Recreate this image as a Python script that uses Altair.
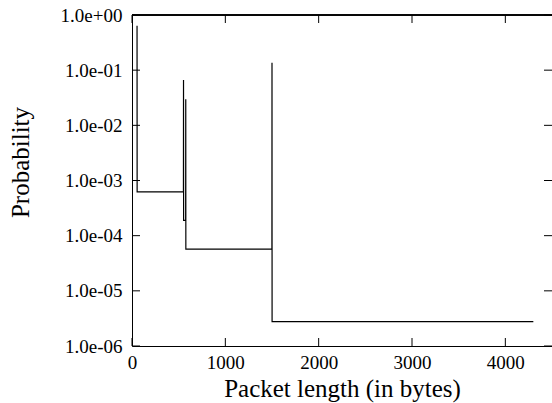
import altair as alt
import pandas as pd

# Packet-length probability path (bytes, probability)
pkt_len = [54, 55, 551, 552, 553, 575, 576, 577, 1499, 1500, 1501, 4300]
prob = [0.64, 6.2e-4, 6.2e-4, 0.066, 1.9e-4, 1.9e-4, 0.0296, 5.7e-5, 5.7e-5, 0.136, 2.76e-6, 2.76e-6]

x_ticks = [0, 1000, 2000, 3000, 4000]
y_ticks = [1.0, 1e-1, 1e-2, 1e-3, 1e-4, 1e-5, 1e-6]

W, H = 420, 331
FONT = "Liberation Serif"

line_df = pd.DataFrame({"x": pkt_len, "y": prob, "i": list(range(len(pkt_len)))})
xt_df = pd.DataFrame({"x": x_ticks})
yt_df = pd.DataFrame({"y": y_ticks})

xscale = alt.Scale(domain=[0, 4500], nice=False, zero=False)
yscale = alt.Scale(type="log", domain=[1e-6, 1.0], nice=False)

xaxis = alt.Axis(
    values=x_ticks, format="d", title="Packet length (in bytes)", ticks=False, tickSize=0,
    labelPadding=7, labelFlush=False, grid=False,
    titleY=50, titleBaseline="alphabetic", titleFontWeight="normal",
)
yaxis = alt.Axis(
    values=y_ticks, title="Probability", ticks=False, tickSize=0,
    labelPadding=10, labelFlush=False, grid=False,
    labelExpr="'1.0e' + (round(log(datum.value)/LN10) < 0 ? '-' : '+') + '0' + abs(round(log(datum.value)/LN10))",
    titleX=-104, titleY=147, titleBaseline="alphabetic", titleAlign="center",
    titleFontWeight="normal",
)

line = alt.Chart(line_df).mark_line(color="black", strokeWidth=1.2).encode(
    x=alt.X("x:Q", scale=xscale, axis=xaxis),
    y=alt.Y("y:Q", scale=yscale, axis=yaxis),
    order=alt.Order("i:Q"),
)

tick_len = 8
yl = alt.Chart(yt_df).mark_rule(color="black", strokeWidth=1).encode(
    y=alt.Y("y:Q", scale=yscale, axis=yaxis),
    x=alt.value(0), x2=alt.value(tick_len),
)
yr = alt.Chart(yt_df).mark_rule(color="black", strokeWidth=1).encode(
    y=alt.Y("y:Q", scale=yscale, axis=yaxis),
    x=alt.value(W - tick_len), x2=alt.value(W),
)
xb = alt.Chart(xt_df).mark_rule(color="black", strokeWidth=1).encode(
    x=alt.X("x:Q", scale=xscale, axis=xaxis),
    y=alt.value(H - tick_len), y2=alt.value(H),
)
xtop = alt.Chart(xt_df).mark_rule(color="black", strokeWidth=1).encode(
    x=alt.X("x:Q", scale=xscale, axis=xaxis),
    y=alt.value(0), y2=alt.value(tick_len),
)
top_border = alt.Chart(xt_df).mark_rule(color="black", strokeWidth=1).encode(
    x=alt.value(0), x2=alt.value(W), y=alt.value(0),
)

chart = alt.layer(line, yl, yr, xb, xtop, top_border).properties(
    width=W, height=H,
    autosize=alt.AutoSizeParams(type="none"),
    padding={"left": 132, "top": 15, "right": 0, "bottom": 57},
    background="white",
).configure_view(stroke=None).configure_axis(
    labelFont=FONT, titleFont=FONT, labelFontSize=19, titleFontSize=25,
    labelColor="black", titleColor="black", domainColor="black", domainWidth=1,
)

chart.save("out.html", embed_options={"renderer": "svg", "actions": False})
